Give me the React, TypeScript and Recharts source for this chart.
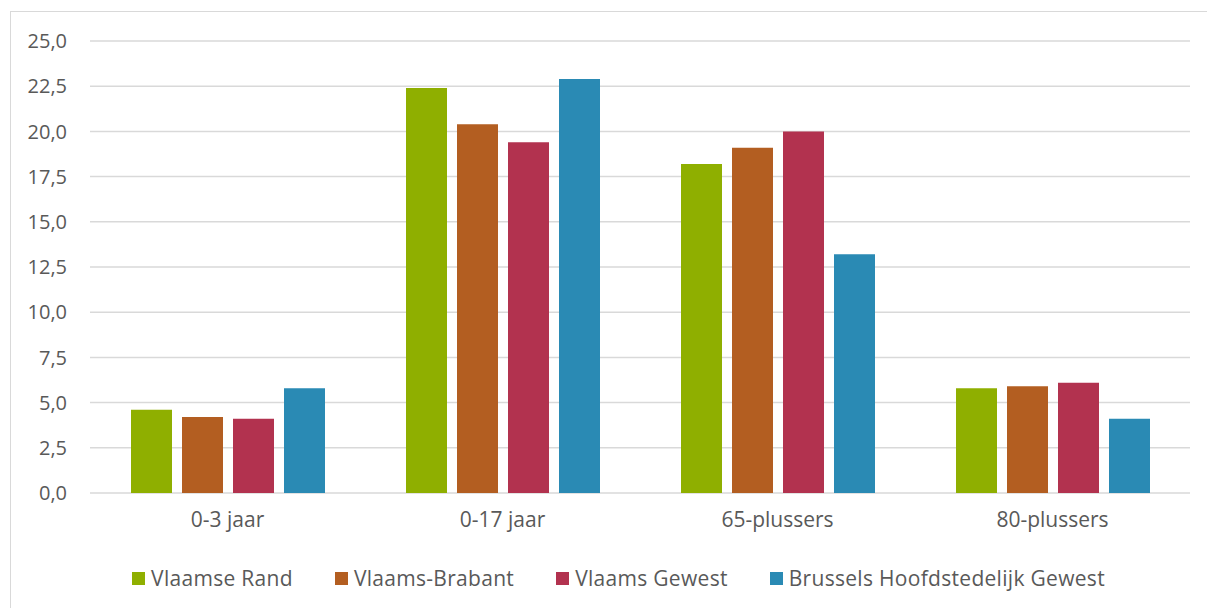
import { BarChart, Bar, XAxis, YAxis, CartesianGrid, Legend } from "recharts";

const categories = ["0-3 jaar", "0-17 jaar", "65-plussers", "80-plussers"];
const vlaamseRand = [4.6, 22.4, 18.2, 5.8];
const vlaamsBrabant = [4.2, 20.4, 19.1, 5.9];
const vlaamsGewest = [4.1, 19.4, 20.0, 6.1];
const brussel = [5.8, 22.9, 13.2, 4.1];
const yTicks = [0, 2.5, 5, 7.5, 10, 12.5, 15, 17.5, 20, 22.5, 25];

const series = [
  { key: "vr", name: "Vlaamse Rand", color: "#8FAF00" },
  { key: "vb", name: "Vlaams-Brabant", color: "#B35E21" },
  { key: "vg", name: "Vlaams Gewest", color: "#B2324F" },
  { key: "bhg", name: "Brussels Hoofdstedelijk Gewest", color: "#2A8AB4" },
];

const data = categories.map((c, i) => ({
  cat: c,
  vr: vlaamseRand[i],
  vb: vlaamsBrabant[i],
  vg: vlaamsGewest[i],
  bhg: brussel[i],
}));

const textColor = "#595959";
const font = "'Open Sans', sans-serif";

const fmt = (v: number) => v.toFixed(1).replace(".", ",");

const LegendContent = () => (
  <div
    style={{
      height: 40,
      display: "flex",
      justifyContent: "center",
      alignItems: "center",
      paddingLeft: 36,
      fontFamily: font,
      fontSize: 21,
      letterSpacing: 0.3,
      color: textColor,
    }}
  >
    {series.map((s, i) => (
      <div key={s.key} style={{ display: "flex", alignItems: "center", marginLeft: i === 0 ? 0 : 42 }}>
        <span style={{ width: 13, height: 13, background: s.color, display: "inline-block", marginRight: 6 }} />
        <span>{s.name}</span>
      </div>
    ))}
  </div>
);

export default function App() {
  return (
    <div style={{ marginLeft: 2, marginTop: 3, width: 1203, height: 600, border: "1px solid #d9d9d9", background: "#fff" }}>
      <BarChart
        width={1203}
        height={596}
        data={data}
        margin={{ top: 29, right: 24, left: 0, bottom: 10 }}
        barSize={41}
        barGap={10}
      >
        <CartesianGrid vertical={false} stroke="#d9d9d9" strokeWidth={1.5} />
        <XAxis
          dataKey="cat"
          axisLine={false}
          tickLine={false}
          tickSize={0}
          tickMargin={19}
          height={65}
          tick={{ fill: textColor, fontSize: 21, fontFamily: font }}
        />
        <YAxis
          domain={[0, 25]}
          ticks={yTicks}
          tickFormatter={fmt}
          axisLine={false}
          tickLine={false}
          tickSize={0}
          tickMargin={23}
          width={79}
          tick={{ fill: textColor, fontSize: 20, fontFamily: font }}
        />
        <Legend verticalAlign="bottom" content={<LegendContent />} />
        {series.map((s) => (
          <Bar key={s.key} dataKey={s.key} name={s.name} fill={s.color} isAnimationActive={false} />
        ))}
      </BarChart>
    </div>
  );
}
